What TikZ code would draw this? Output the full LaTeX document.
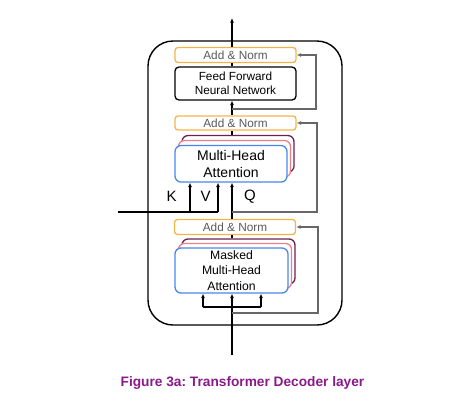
\documentclass[tikz,border=0pt]{standalone}
\usepackage{fontspec}
\setmainfont{Liberation Sans}
\usepackage{xcolor}
\usepackage{tikz}
\usetikzlibrary{positioning,calc,arrows.meta}
\frenchspacing

\definecolor{normorange}{HTML}{F6B447}
\definecolor{normgray}{HTML}{5A5A5A}
\definecolor{attnblue}{HTML}{4A86E8}
\definecolor{attnpink}{HTML}{EC7F8C}
\definecolor{attnpurple}{HTML}{6A2350}
\definecolor{residgray}{HTML}{676767}
\definecolor{captionpurple}{HTML}{8B1A89}

\tikzset{
  addnorm/.style={draw=normorange, line width=1.3pt, rounded corners=3pt, fill=white,
    minimum width=121pt, minimum height=15pt, inner sep=0pt, text=normgray,
    font=\fontsize{11.8}{13}\selectfont},
  ffbox/.style={draw, line width=1.3pt, rounded corners=4pt, minimum width=121pt,
    minimum height=33pt, inner sep=0pt, align=center, font=\fontsize{11.8}{14.3}\selectfont},
  attn/.style={draw=attnblue, line width=1.3pt, rounded corners=6pt, fill=white,
    inner sep=0pt, align=center},
  attnback/.style={attn, draw=#1},
  resid/.style={draw=residgray, line width=1.2pt, -{Latex[length=4.5pt,width=4pt]}},
  flow/.style={line width=1.3pt, -{Latex[length=4.5pt,width=4pt]}},
  kvq/.style={font=\fontsize{15}{17}\selectfont}
}

\begin{document}
\begin{tikzpicture}[x=1pt,y=-1pt]
            \useasboundingbox (0,0) rectangle (473,410);
            % decoder layer
            \node[draw, line width=1.4pt, rounded corners=25pt, minimum width=194pt, minimum height=284pt] at (245,183) (layer) {};

            \coordinate (out) at (232,18);
            \coordinate (in) at (232,355);

            \node[addnorm] at (235.5,55) (addnorm3) {Add \& Norm};
            \node[ffbox] at (235.5,83.5) (ff) {Feed Forward\\Neural Network};
            \node[addnorm, minimum height=14pt] at (235.5,123) (addnorm2) {Add \& Norm};

            \node[attnback=attnpurple, minimum width=112pt, minimum height=36.5pt] at (238,153.8) (mhaback2) {};
            \node[attnback=attnpink, minimum width=112pt, minimum height=36.5pt] at (234.5,158.8) (mhaback1) {};
            \node[attn, minimum width=112pt, minimum height=36.5pt, font=\fontsize{14}{16.7}\selectfont] at (231,163.8) (mha) {Multi-Head\\Attention};

            \node[addnorm] at (235,227) (addnorm1) {Add \& Norm};

            \node[attnback=attnpurple, minimum width=113pt, minimum height=45pt] at (238.5,261.5) (mmhaback2) {};
            \node[attnback=attnpink, minimum width=113pt, minimum height=45pt] at (235,266) (mmhaback1) {};
            \node[attn, minimum width=113pt, minimum height=45pt, font=\fontsize{12.2}{15.5}\selectfont] at (231.5,270.5) (mmha) {Masked\\Multi-Head\\Attention};

            % main path
            \draw[flow] (addnorm3.north -| out) -- (out);
            \draw[line width=1.3pt] (ff.north -| out) -- (addnorm3.south -| out);
            \draw[flow] (addnorm2.north -| out) -- (ff.south -| out);
            \draw[line width=1.3pt] (mhaback2.north -| out) -- (addnorm2.south -| out);
            \draw[flow] (addnorm1.north -| out) -- (mha.south -| out);
            \draw[line width=1.3pt] (mmhaback2.north -| out) -- (addnorm1.south -| out);
            \draw[flow] (in) -- (mmha.south -| in);

            % keys and values from the encoder
            \coordinate (kv) at (118,212);
            \coordinate (kin) at (190,212);
            \coordinate (vin) at (218,212);
            \draw[line width=1.3pt] (kv) -- (vin);
            \draw[flow] (kin) -- (kin |- mha.south);
            \draw[flow] (vin) -- (vin |- mha.south);
            \node[kvq] at (171.5,196.5) (klabel) {K};
            \node[kvq] at (205.5,196.5) (vlabel) {V};
            \node[kvq] at (250,197) (qlabel) {Q};

            % masked attention inputs
            \coordinate (ml) at (203,307);
            \coordinate (mr) at (261,307);
            \draw[line width=1.3pt] (ml) -- (mr);
            \draw[flow] (ml) -- (ml |- mmha.south);
            \draw[flow] (mr) -- (mr |- mmha.south);

            % residual connections
            \coordinate (res3) at (316,109);
            \coordinate (res2) at (317,212);
            \coordinate (res1) at (318,313);
            \draw[resid] (res3 -| out) -- (res3) |- (addnorm3.east);
            \draw[resid] (res2 -| out) -- (res2) |- (addnorm2.east);
            \draw[resid] (res1 -| in) -- (res1) |- (addnorm1.east);

            \node[text=captionpurple, font=\bfseries\fontsize{13.7}{16}\selectfont] at (242.5,383) (caption) {Figure 3a: Transformer Decoder layer};
        \end{tikzpicture}
\end{document}
